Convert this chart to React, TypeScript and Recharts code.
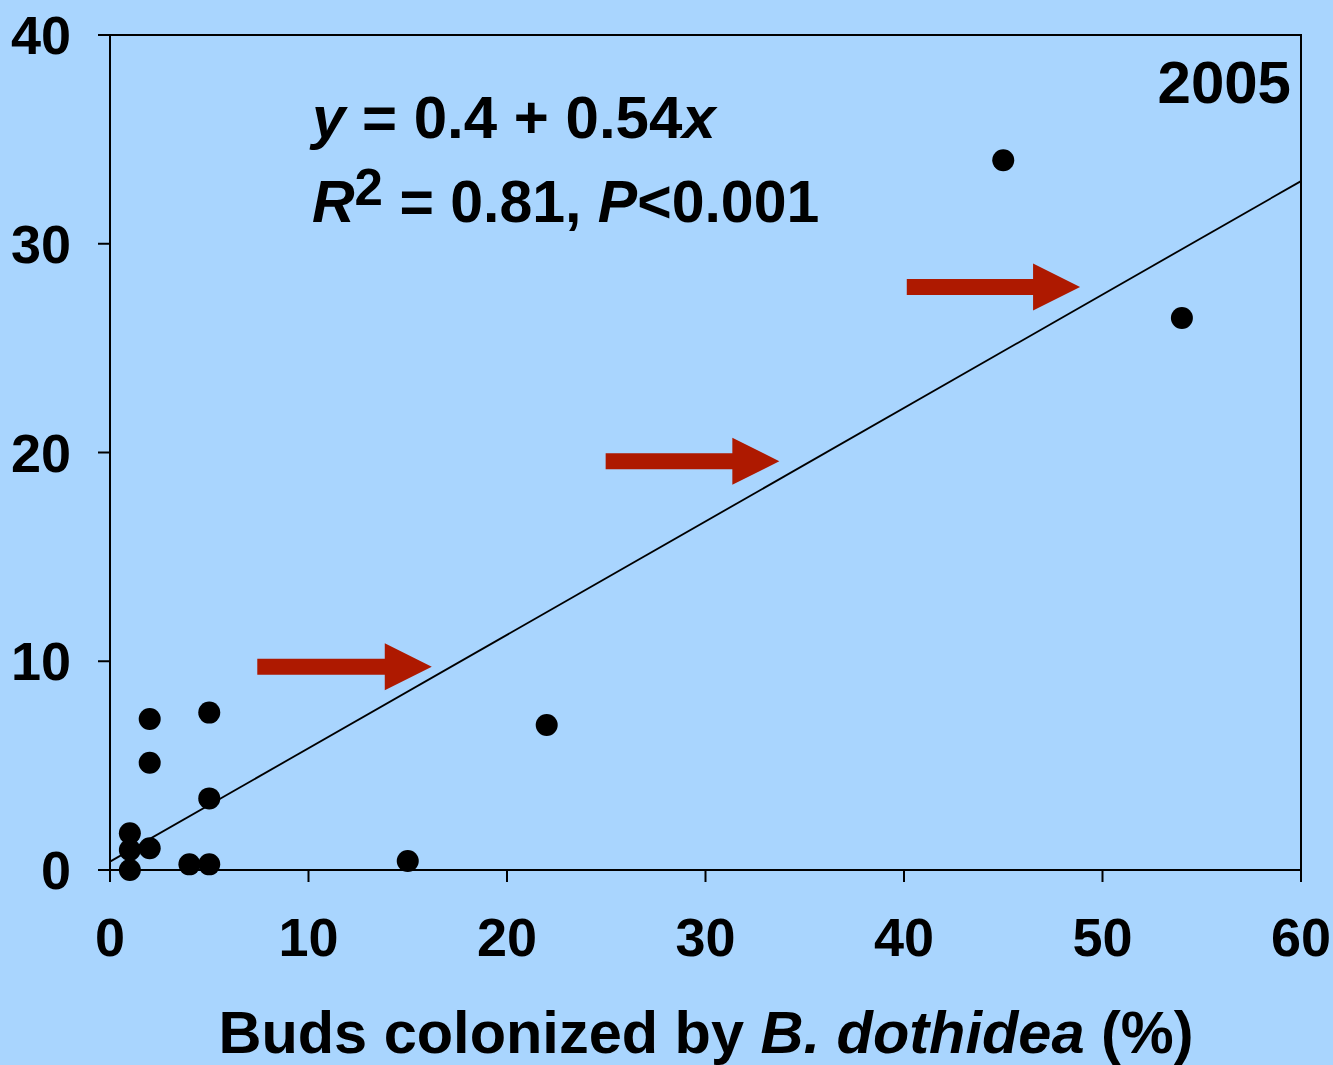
import React from 'react';
import {
  ScatterChart,
  Scatter,
  XAxis,
  YAxis,
  ReferenceLine,
  ReferenceArea,
  Customized,
} from 'recharts';

// ---- data ----
const budsColonized = [1, 1, 1, 2, 2, 2, 4, 5, 5, 5, 15, 22, 45, 54];
const fruitInfected = [0, 0.96, 1.76, 1.04, 5.14, 7.23, 0.27, 0.27, 3.43, 7.54, 0.43, 6.95, 34.0, 26.44];

const xTicks = [0, 10, 20, 30, 40, 50, 60];
const yTicks = [0, 10, 20, 30, 40];

// regression line end points (y = 0.4 + 0.54x)
const fitLine = [
  { x: 0, y: 0.4 },
  { x: 60, y: 33.0 },
];

// red arrows: start x, end x, y
const arrowStartX = [7.42, 24.97, 40.14];
const arrowEndX = [16.21, 33.72, 48.87];
const arrowY = [9.74, 19.58, 27.93];

const points = budsColonized.map((x, i) => ({ x, y: fruitInfected[i] }));
const arrows = arrowStartX.map((x1, i) => ({ x1, x2: arrowEndX[i], y: arrowY[i] }));

const FONT = '"Liberation Sans", Arial, Helvetica, sans-serif';
const BG = '#A9D5FE';
const RED = '#AE1900';

const Dot = (props: any) => {
  const { cx, cy } = props;
  if (cx == null || cy == null) return null;
  return <circle cx={cx} cy={cy} r={11} fill="#000" />;
};

const ArrowShape = (props: any) => {
  const { x1, y1, x2 } = props;
  if (x1 == null || x2 == null) return null;
  const headLen = 47;
  const shaftHalf = 8;
  const headHalf = 23.5;
  const xb = x2 - headLen;
  const d = `M${x1},${y1 - shaftHalf} L${xb},${y1 - shaftHalf} L${xb},${y1 - headHalf} L${x2},${y1} L${xb},${y1 + headHalf} L${xb},${y1 + shaftHalf} L${x1},${y1 + shaftHalf} Z`;
  return <path d={d} fill={RED} stroke="none" />;
};

const XTick = (props: any) => {
  const { x, y, payload } = props;
  return (
    <text x={x} y={y} dy="0.71em" textAnchor="middle" fontSize={54} fontWeight="bold" fontFamily={FONT} fill="#000">
      {payload.value}
    </text>
  );
};

const YTick = (props: any) => {
  const { x, y, payload } = props;
  return (
    <text x={x} y={y} dy="0.355em" textAnchor="end" fontSize={54} fontWeight="bold" fontFamily={FONT} fill="#000">
      {payload.value}
    </text>
  );
};

const Texts = () => (
  <g fontFamily={FONT} fontWeight="bold" fill="#000">
    <text x={312} y={138} fontSize={60}>
      <tspan fontStyle="italic">y</tspan>
      <tspan> = 0.4 + 0.54</tspan>
      <tspan fontStyle="italic">x</tspan>
    </text>
    <text x={312} y={222} fontSize={59}>
      <tspan fontStyle="italic">R</tspan>
      <tspan fontSize={51} dy={-17}>2</tspan>
      <tspan dy={17}> = 0.81, </tspan>
      <tspan fontStyle="italic">P</tspan>
      <tspan>&lt;0.001</tspan>
    </text>
    <text x={1291} y={103} fontSize={60} textAnchor="end">2005</text>
    <text x={706} y={1053} fontSize={59.5} textAnchor="middle">
      <tspan>Buds colonized by </tspan>
      <tspan fontStyle="italic">B. dothidea</tspan>
      <tspan> (%)</tspan>
    </text>
  </g>
);

export default function App() {
  return (
    <div style={{ position: 'absolute', left: 0, top: 0, width: 1333, height: 1065, background: BG }}>
      <ScatterChart width={1333} height={1065} margin={{ top: 35, right: 32, left: 0, bottom: 0 }}>
        <XAxis
          type="number"
          dataKey="x"
          domain={[0, 60]}
          ticks={xTicks}
          interval={0}
          height={195}
          tickSize={12}
          tickMargin={36}
          axisLine={{ stroke: '#000', strokeWidth: 2 }}
          tickLine={{ stroke: '#000', strokeWidth: 2 }}
          tick={<XTick />}
        />
        <YAxis
          type="number"
          dataKey="y"
          domain={[0, 40]}
          ticks={yTicks}
          interval={0}
          width={110}
          tickSize={12}
          tickMargin={27}
          axisLine={{ stroke: '#000', strokeWidth: 2 }}
          tickLine={{ stroke: '#000', strokeWidth: 2 }}
          tick={<YTick />}
        />
        <ReferenceArea x1={0} x2={60} y1={0} y2={40} fill="none" stroke="#000" strokeWidth={2} ifOverflow="visible" />
        <ReferenceLine
          segment={fitLine}
          stroke="#000"
          strokeWidth={1.8}
          ifOverflow="visible"
        />
        {arrows.map((a, i) => (
          <ReferenceLine
            key={i}
            segment={[
              { x: a.x1, y: a.y },
              { x: a.x2, y: a.y },
            ]}
            ifOverflow="visible"
            shape={(p: any) => <ArrowShape {...p} />}
          />
        ))}
        <Scatter data={points} isAnimationActive={false} shape={<Dot />} />
        <Customized component={<Texts />} />
      </ScatterChart>
    </div>
  );
}
